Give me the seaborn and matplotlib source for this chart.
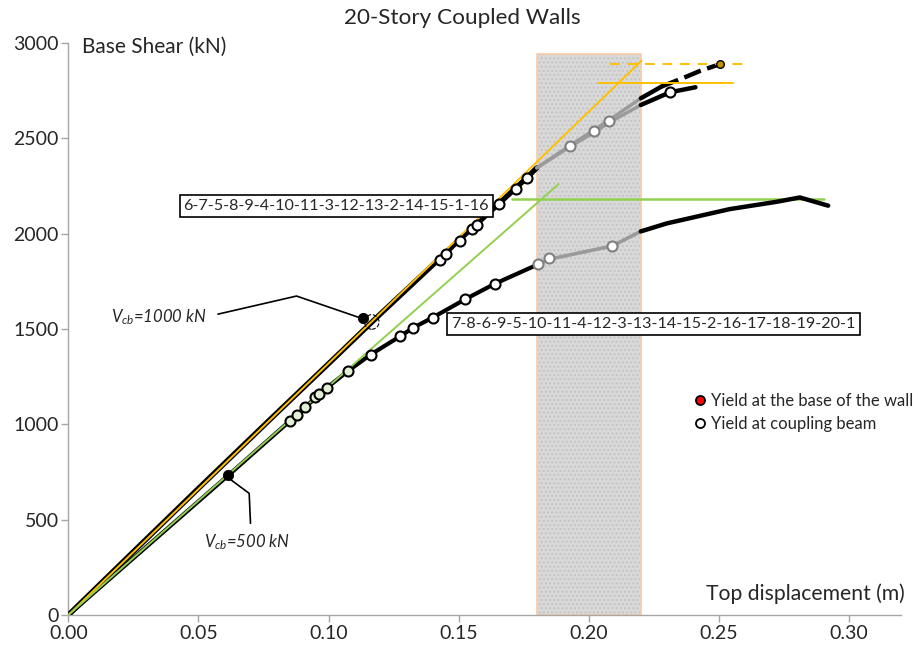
import matplotlib
matplotlib.use("Agg")
import matplotlib.pyplot as plt
import seaborn as sns
from matplotlib.lines import Line2D

# curve for Vcb = 1000 kN (upper)
up_x = [0, 0.02, 0.05, 0.08, 0.10, 0.12, 0.1429, 0.15, 0.1655, 0.1761, 0.18]
up_y = [0, 266, 664, 1058, 1318, 1580, 1872, 1965, 2158, 2292, 2345]
up_gray_x = [0.18, 0.1927, 0.2021, 0.2078, 0.22]
up_gray_a = [2345, 2462, 2545, 2596, 2710]
up_gray_b = [2345, 2455, 2532, 2582, 2675]
up_a_x = [0.22, 0.228]
up_a_y = [2710, 2772]
up_dash_x = [0.228, 0.236, 0.243, 0.2504]
up_dash_y = [2772, 2815, 2855, 2889]
up_b_x = [0.22, 0.2313, 0.241]
up_b_y = [2675, 2742, 2768]
up_mk_x = [0.1429, 0.145, 0.1505, 0.155, 0.157, 0.1655, 0.1719, 0.1761, 0.2313]
up_mk_y = [1861, 1891, 1961, 2022, 2048, 2155, 2237, 2290, 2742]
up_gmk_x = [0.1927, 0.2021, 0.2078]
up_gmk_y = [2460, 2540, 2591]

# curve for Vcb = 500 kN (lower)
lo_x = [0, 0.0615, 0.0853, 0.0993, 0.1073, 0.1162, 0.1275, 0.1326, 0.140, 0.1525, 0.164, 0.18]
lo_y = [0, 733, 1020, 1191, 1278, 1366, 1462, 1507, 1560, 1656, 1738, 1836]
lo_gray_x = [0.18, 0.1847, 0.2089, 0.22]
lo_gray_y = [1836, 1866, 1935, 2012]
lo_end_x = [0.22, 0.23, 0.2542, 0.2721, 0.2811, 0.292]
lo_end_y = [2012, 2054, 2129, 2167, 2190, 2147]
lo_gnmk_x = [0.0853, 0.0878, 0.091, 0.0949, 0.0965, 0.0993, 0.1073]
lo_gnmk_y = [1020, 1047, 1091, 1143, 1161, 1191, 1278]
lo_mk_x = [0.1162, 0.1275, 0.1326, 0.140, 0.1525, 0.164]
lo_mk_y = [1366, 1462, 1507, 1560, 1656, 1738]
lo_gmk_x = [0.1804, 0.1847, 0.2089]
lo_gmk_y = [1840, 1870, 1935]

# wall base yield points
base_x = [0.0615, 0.1134]
base_y = [733, 1558]

# bilinear idealisations
yel_x = [0, 0.2203]
yel_y = [0, 2908]
yel_dash_x = [0.208, 0.2606]
yel_dash_y = [2890, 2890]
yel_h_x = [0.2034, 0.2554]
yel_h_y = [2790, 2790]
grn_x = [0, 0.1884]
grn_y = [0, 2260]
grn_h_x = [0.1705, 0.2904]
grn_h_y = [2181, 2181]

band_x = [0.18, 0.22]
band_top = 2940

seq_up = "6-7-5-8-9-4-10-11-3-12-13-2-14-15-1-16"
seq_lo = "7-8-6-9-5-10-11-4-12-3-13-14-15-2-16-17-18-19-20-1"

sns.set_style("white")
plt.rcParams["font.family"] = ["Lato", "DejaVu Sans"]
plt.rcParams["mathtext.fontset"] = "custom"
plt.rcParams["mathtext.it"] = "Lato:italic"
plt.rcParams["mathtext.rm"] = "Lato"

fig = plt.figure(figsize=(9.21, 6.48), dpi=100)
ax = fig.add_axes([0.0742, 0.0509, 0.9041, 0.8827])

YEL = "#ffc000"
GRN = "#92d050"
GRY = "#9a9a9a"

# shaded band
ax.fill_between(band_x, 0, band_top, facecolor="#d9d9d9", hatch="....",
                edgecolor="#c4c4c4", linewidth=0, zorder=1)
ax.fill_between(band_x, 0, band_top, facecolor="none", edgecolor="#f8cba6",
                linewidth=1.2, zorder=1)

def line(x, y, **kw):
    sns.lineplot(x=x, y=y, ax=ax, sort=False, estimator=None, **kw)

# upper curve
line(up_x, up_y, color="black", lw=3.8, zorder=3)
line(up_gray_x, up_gray_a, color=GRY, lw=2.4, zorder=3)
line(up_gray_x, up_gray_b, color=GRY, lw=2.4, zorder=3)
line(up_a_x, up_a_y, color="black", lw=3.2, zorder=3)
line(up_dash_x, up_dash_y, color="black", lw=3.2, linestyle=(0, (4, 1.5)), zorder=3)
line(up_b_x, up_b_y, color="black", lw=3.2, zorder=3)

# lower curve
line(lo_x, lo_y, color="black", lw=3, zorder=3)
line(lo_gray_x, lo_gray_y, color=GRY, lw=2.6, zorder=3)
line(lo_end_x, lo_end_y, color="black", lw=3.2, zorder=3)

# idealisations
line(yel_x, yel_y, color=YEL, lw=1.4, zorder=4)
line(yel_dash_x, yel_dash_y, color=YEL, lw=1.4, linestyle=(0, (5, 4)), zorder=4)
line(yel_h_x, yel_h_y, color=YEL, lw=1.4, zorder=4)
line(grn_x, grn_y, color=GRN, lw=1.4, zorder=4)
line(grn_h_x, grn_h_y, color=GRN, lw=1.8, zorder=2)

# markers
mk = dict(ax=ax, s=52, linewidth=1.5, zorder=5)
sns.scatterplot(x=up_mk_x, y=up_mk_y, color="white", edgecolor="black", **mk)
sns.scatterplot(x=up_gmk_x, y=up_gmk_y, color="white", edgecolor="#7f7f7f", **mk)
sns.scatterplot(x=lo_gnmk_x, y=lo_gnmk_y, color="#e2f0d4", edgecolor="black", **mk)
sns.scatterplot(x=lo_mk_x, y=lo_mk_y, color="white", edgecolor="black", **mk)
sns.scatterplot(x=lo_gmk_x, y=lo_gmk_y, color="white", edgecolor="#7f7f7f", **mk)
sns.scatterplot(x=base_x, y=base_y, ax=ax, s=55, color="black",
                edgecolor="black", zorder=6)
ax.scatter([0.1166], [1537], s=110, facecolor="none", edgecolor="black",
           linewidth=0.8, linestyle="--", zorder=6)
ax.scatter([up_dash_x[-1]], [up_dash_y[-1]], s=30, marker="o",
           facecolor="#c09000", edgecolor="black", zorder=6)

# sequence labels
box = dict(boxstyle="square,pad=0.25", facecolor="white", edgecolor="black", lw=1.2)
ax.text(0.103, 2147, seq_up, ha="center", va="center", fontsize=11.6, bbox=box, zorder=7)
ax.text(0.2249, 1526, seq_lo, ha="center", va="center", fontsize=11.6, bbox=box, zorder=7)

# Vcb annotations
ax.plot([0.0575, 0.0877, 0.1127], [1578, 1673, 1556], color="black", lw=1.2, zorder=6)
ax.text(0.0533, 1564, r"$V_{cb}$=1000 kN", ha="right", va="center",
        fontsize=12, style="italic")
ax.plot([0.0614, 0.0695, 0.070], [720, 638, 481], color="black", lw=1.2, zorder=6)
ax.text(0.0687, 384, r"$V_{cb}$=500 kN", ha="center", va="center",
        fontsize=12, style="italic")

# legend
handles = [
    Line2D([], [], marker="o", ls="", markerfacecolor="red", markeredgecolor="black",
           markersize=6.5, markeredgewidth=1.3),
    Line2D([], [], marker="o", ls="", markerfacecolor="white", markeredgecolor="black",
           markersize=6.5, markeredgewidth=1.3),
]
ax.legend(handles, ["Yield at the base of the wall", "Yield at coupling beam"],
          loc="upper left", bbox_to_anchor=(0.740, 0.400), frameon=False,
          fontsize=12, handletextpad=0.2, labelspacing=0.4, handlelength=1.0,
          borderaxespad=0)

ax.set_xlim(0, 0.32)
ax.set_ylim(0, 3000)
ax.set_xticks([0, 0.05, 0.10, 0.15, 0.20, 0.25, 0.30])
ax.set_xticklabels(["0.00", "0.05", "0.10", "0.15", "0.20", "0.25", "0.30"])
ax.set_yticks([0, 500, 1000, 1500, 2000, 2500, 3000])
ax.tick_params(axis="both", labelsize=14, length=5, width=1, color="#a6a6a6",
               direction="out", pad=2, bottom=True, left=True)
for side in ["top", "right"]:
    ax.spines[side].set_visible(False)
for side in ["left", "bottom"]:
    ax.spines[side].set_color("#a6a6a6")
    ax.spines[side].set_linewidth(1)

ax.text(0.017, 0.993, "Base Shear (kN)", transform=ax.transAxes, ha="left",
        va="center", fontsize=15)
ax.text(1.005, 0.038, "Top displacement (m)", transform=ax.transAxes, ha="right",
        va="center", fontsize=15.2)
fig.text(0.5016, 0.972, "20-Story Coupled Walls", ha="center", va="center", fontsize=16.2)

fig.savefig("out.png", dpi=100)
